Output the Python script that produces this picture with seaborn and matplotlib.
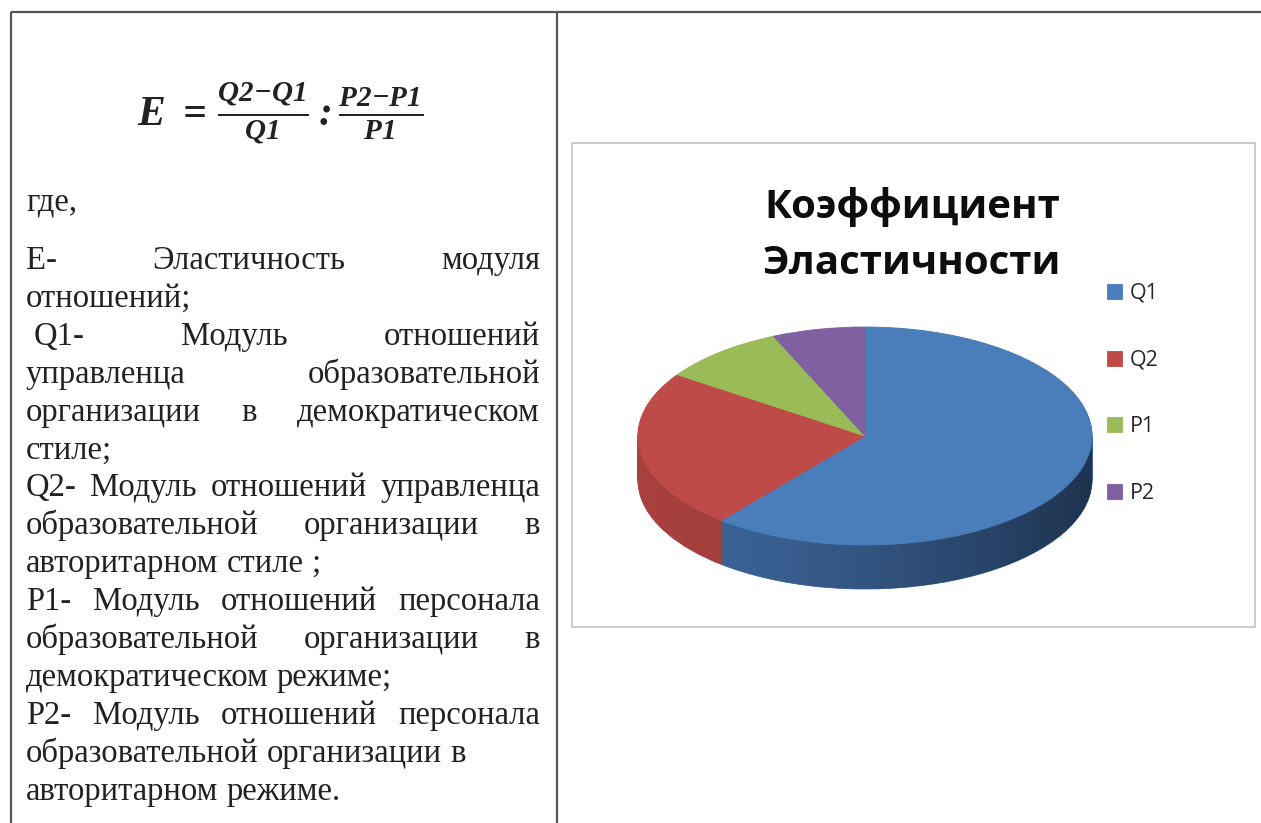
import numpy as np
import matplotlib
matplotlib.use("Agg")
import matplotlib.pyplot as plt
from matplotlib.path import Path
from matplotlib.patches import PathPatch, Rectangle
import seaborn as sns

# ---- chart data -------------------------------------------------------
segments = ["Q1", "Q2", "P1", "P2"]
shares = [60.9, 23.6, 8.9, 6.6]
top_colors = ["#4A7EBB", "#BE4B48", "#9BBB59", "#7F60A0"]
side_colors = ["#3D669C", "#A8413E", "#7E9A48", "#674D85"]
title_lines = ["Коэффициент", "Эластичности"]

# ---- text of the left cell -------------------------------------------
formula = r"$E\ =\,\frac{Q2{-}Q1}{Q1}:\frac{P2{-}P1}{P1}$"
where_word = "где,"
# (line, justified, indent in px)
body_lines = [
    ("Е- Эластичность модуля", True, 0),
    ("отношений;", False, 0),
    ("Q1- Модуль отношений", True, 8),
    ("управленца образовательной", True, 0),
    ("организации в демократическом", True, 0),
    ("стиле;", False, 0),
    ("Q2- Модуль отношений управленца", True, 0),
    ("образовательной организации в", True, 0),
    ("авторитарном стиле ;", False, 0),
    ("P1- Модуль отношений персонала", True, 0),
    ("образовательной организации в", True, 0),
    ("демократическом режиме;", False, 0),
    ("P2- Модуль отношений персонала", True, 0),
    ("образовательной организации в", False, 0),
    ("авторитарном режиме.", False, 0),
]

# ---- style ----------------------------------------------------------
sns.set_theme(style="white")
plt.rcParams["font.family"] = ["Liberation Serif", "DejaVu Serif"]
plt.rcParams["mathtext.fontset"] = "custom"
plt.rcParams["mathtext.rm"] = "Liberation Serif:italic:bold"
plt.rcParams["mathtext.it"] = "Liberation Serif:italic:bold"
plt.rcParams["mathtext.bf"] = "Liberation Serif:italic:bold"

W, H = 1261, 823
fig = plt.figure(figsize=(W / 100, H / 100), dpi=100)
fig.patch.set_facecolor("white")

# page-level axes in pixel units (y grows downwards)
bg = fig.add_axes([0, 0, 1, 1])
bg.set_xlim(0, W)
bg.set_ylim(H, 0)
bg.axis("off")

# table grid
grid_kw = dict(color="#555555", lw=1.6, solid_capstyle="butt")
bg.plot([10.5, W], [12, 12], **grid_kw)
bg.plot([10.5, 10.5], [12, H], **grid_kw)
bg.plot([557, 557], [12, H], **grid_kw)

# chart frame
bg.add_patch(Rectangle((572, 143), 683, 484, fill=False,
                       edgecolor="#BDBDBD", lw=1.1))

# ---- left cell text -------------------------------------------------
ink = "#222222"
bg.text(137, 126, formula, fontsize=30, color=ink, ha="left", va="baseline")

body_style = dict(fontsize=23.5, color=ink, family=["Liberation Serif"],
                  va="baseline", ha="left")
bg.text(26, 210, where_word, **body_style)

renderer = fig.canvas.get_renderer()


def width_of(s):
    t = bg.text(0, 0, s, **body_style)
    w = t.get_window_extent(renderer).width
    t.remove()
    return w


space_w = width_of("а а") - width_of("аа")
left, right = 26, 540
base0, step = 269, 37.9
for i, (line, justified, indent) in enumerate(body_lines):
    y = base0 + i * step
    words = line.split()
    arts = [bg.text(0, y, w, **body_style) for w in words]
    widths = [a.get_window_extent(renderer).width for a in arts]
    x = left + indent
    if justified and len(words) > 1:
        gap = (right - x - sum(widths)) / (len(words) - 1)
    else:
        gap = space_w
    for a, w in zip(arts, widths):
        a.set_x(x)
        x += w + gap

# ---- 3D-looking pie -------------------------------------------------
cx, cy, rx, ry = 865, 436, 227, 109
depth = 44 / ry
pa = fig.add_axes([0, 0, 1, 1], zorder=2)
pa.patch.set_alpha(0)

n_layers = 44
for k in range(n_layers, 0, -1):
    wedges, _ = pa.pie(shares, radius=1, center=(0, -depth * k / n_layers),
                       startangle=90, counterclock=False, colors=side_colors)
    for w in wedges:
        w.set_edgecolor(w.get_facecolor())
        w.set_linewidth(0.6)

# side shading: darker towards the right
t_low = np.linspace(np.pi, 2 * np.pi, 300)
t_up = np.linspace(0, np.pi, 300)
verts = np.vstack([
    np.column_stack([np.cos(t_low), np.sin(t_low) - depth]),
    np.column_stack([np.cos(t_up), np.sin(t_up)]),
    [[-1, -depth]],
])
codes = [Path.MOVETO] + [Path.LINETO] * (len(verts) - 2) + [Path.CLOSEPOLY]
silhouette = PathPatch(Path(verts, codes), transform=pa.transData,
                       facecolor="none", edgecolor="none")
pa.add_patch(silhouette)
ramp = np.linspace(0, 1, 256)
shade = np.zeros((1, 256, 4))
shade[0, :, 3] = 0.5 * ramp ** 1.5
im = pa.imshow(shade, extent=(-1, 1, -1 - depth, 1), aspect="auto",
               interpolation="bilinear", zorder=1.5)
im.set_clip_path(silhouette)

top_wedges, _ = pa.pie(shares, radius=1, center=(0, 0), startangle=90,
                       counterclock=False, colors=top_colors)
for w in top_wedges:
    w.set_edgecolor(w.get_facecolor())
    w.set_linewidth(0.6)
    w.set_zorder(2)

pa.set_aspect("auto")
pa.set_xlim(-cx / rx, (W - cx) / rx)
pa.set_ylim(-(H - cy) / ry, cy / ry)
pa.axis("off")

# ---- title and legend ------------------------------------------------
title_style = dict(fontsize=29, fontweight="bold", color="#0d0d0d",
                   family=["Open Sans", "DejaVu Sans"], ha="center",
                   va="baseline")
bg.text(912, 218, title_lines[0], **title_style)
bg.text(912, 274, title_lines[1], **title_style)

leg = bg.legend(top_wedges, segments, loc="upper left",
                bbox_to_anchor=(1107, 283), bbox_transform=bg.transData,
                frameon=False, borderpad=0, borderaxespad=0,
                handlelength=0.7, handleheight=0.7, handletextpad=0.35,
                labelspacing=2.12,
                prop=dict(family=["Open Sans", "DejaVu Sans"], size=15.5))
for t in leg.get_texts():
    t.set_color("#262626")

fig.savefig("out.png", dpi=100, facecolor="white")
